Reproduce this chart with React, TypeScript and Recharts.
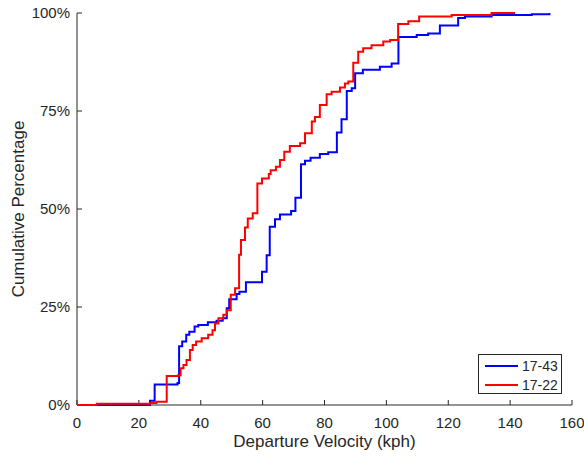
import { LineChart, Line, XAxis, YAxis, Legend } from 'recharts';

// departure velocity (kph) where each step happens, and cumulative % after it
const speeds1743 = [
  0, 23.6, 25.1, 32.5, 33.0, 34.0, 35.3, 36.3, 38.0, 39.2, 42.3, 45.1, 47.1, 48.4, 49.2, 51.6,
  52.5, 54.6, 59.8, 61.3, 62.3, 64.0, 65.6, 69.2, 70.6, 72.4, 73.7, 75.5, 78.5, 81.2, 84.0,
  85.5, 87.2, 88.8, 89.9, 92.4, 97.9, 101.7, 103.9, 109.8, 113.5, 117.3, 123.2, 125.4, 134.0,
  147.0, 152.7,
];
const pct1743 = [
  0, 1.1, 5.2, 5.6, 15.0, 16.2, 17.9, 18.7, 20.0, 20.4, 21.1, 21.5, 22.1, 24.7, 27.0, 28.3,
  28.9, 31.3, 34.0, 38.2, 45.5, 47.4, 48.6, 49.5, 52.9, 61.4, 62.3, 63.1, 64.0, 64.5, 69.5,
  72.9, 80.1, 80.8, 84.6, 85.5, 86.3, 87.1, 93.9, 94.4, 94.8, 96.8, 98.7, 99.1, 99.5, 99.7,
  100,
];

const speeds1722 = [
  0, 6.4, 23.6, 25.7, 29.0, 32.7, 33.5, 34.4, 35.4, 36.5, 37.4, 38.5, 40.3, 42.4, 43.8, 44.6,
  45.7, 47.3, 48.4, 49.7, 51.1, 52.4, 53.0, 54.3, 55.2, 56.8, 58.3, 59.8, 62.0, 62.6, 64.3,
  65.6, 67.0, 68.8, 72.1, 73.7, 75.9, 76.9, 78.5, 80.7, 82.3, 85.0, 86.6, 87.7, 89.3, 90.9,
  92.5, 95.2, 99.0, 101.2, 103.8, 107.1, 110.6, 121.1, 134.0, 141.6,
];
const pct1722 = [
  0, 0.3, 0.5, 0.8, 7.4, 7.6, 9.4, 10.2, 11.5, 14.0, 15.3, 16.2, 17.0, 17.9, 19.1, 20.8,
  22.1, 23.0, 24.2, 28.1, 29.8, 38.3, 42.1, 45.3, 47.6, 48.9, 56.5, 57.8, 58.9, 59.9, 60.8,
  62.5, 64.6, 66.1, 66.8, 69.3, 72.3, 73.5, 76.5, 79.3, 79.9, 81.0, 82.0, 82.5, 87.3, 90.1,
  91.0, 91.8, 92.7, 93.1, 97.2, 97.9, 99.1, 99.5, 100, 100,
];

const seriesNames = ['17-43', '17-22'];
const xTicks = [0, 20, 40, 60, 80, 100, 120, 140, 160];
const yTicks = [0, 25, 50, 75, 100];

const data1743 = speeds1743.map((v, i) => ({ v, p: pct1743[i] }));
const data1722 = speeds1722.map((v, i) => ({ v, p: pct1722[i] }));

const ink = '#262626';
const font = '"Liberation Sans", Arial, sans-serif';

function LegendBox({ payload }: { payload?: { value: string; color: string }[] }) {
  const items = [...(payload || [])].sort(
    (a, b) => seriesNames.indexOf(a.value) - seriesNames.indexOf(b.value)
  );
  return (
    <div
      style={{
        width: 84,
        height: 40,
        border: `1px solid ${ink}`,
        background: '#fff',
        fontFamily: font,
        fontSize: 14,
        color: ink,
        paddingTop: 1,
        boxSizing: 'border-box',
      }}
    >
      {items.map((p) => (
        <div key={p.value} style={{ display: 'flex', alignItems: 'center', height: 19 }}>
          <span style={{ display: 'inline-block', width: 33, height: 2, background: p.color, marginLeft: 6 }} />
          <span style={{ marginLeft: 4 }}>{p.value}</span>
        </div>
      ))}
    </div>
  );
}

export default function App() {
  return (
    <div style={{ position: 'absolute', left: 0, top: 0, background: '#fff' }}>
      <LineChart width={584} height={457} margin={{ top: 13, right: 12, left: 0, bottom: 0 }}>
        <XAxis
          type="number"
          dataKey="v"
          domain={[0, 160]}
          ticks={xTicks}
          interval={0}
          height={52}
          tickSize={-5}
          tickMargin={17}
          stroke={ink}
          tick={{ fill: ink, fontSize: 15, fontFamily: font }}
          label={{
            value: 'Departure Velocity (kph)',
            position: 'insideBottom',
            offset: 10,
            fill: ink,
            fontSize: 17,
            fontFamily: font,
          }}
        />
        <YAxis
          type="number"
          domain={[0, 100]}
          ticks={yTicks}
          interval={0}
          width={77}
          tickSize={-5}
          tickMargin={12}
          stroke={ink}
          tickFormatter={(v: number) => `${v}%`}
          tick={{ fill: ink, fontSize: 15, fontFamily: font }}
          label={{
            content: ({ viewBox }: any) => {
              const cx = viewBox.x + 18;
              const cy = viewBox.y + viewBox.height / 2;
              return (
                <text
                  x={cx}
                  y={cy}
                  transform={`rotate(-90 ${cx} ${cy})`}
                  textAnchor="middle"
                  dominantBaseline="central"
                  fill={ink}
                  fontSize={17}
                  fontFamily={font}
                >
                  Cumulative Percentage
                </text>
              );
            },
          }}
        />
        <Legend
          layout="vertical"
          align="center"
          verticalAlign="middle"
          wrapperStyle={{ left: 478, top: 354, width: 'auto' }}
          content={(props: any) => <LegendBox payload={props.payload} />}
        />
        <Line
          data={data1743}
          dataKey="p"
          name="17-43"
          type="stepAfter"
          stroke="#0000ff"
          strokeWidth={2}
          dot={false}
          zIndex={550}
          isAnimationActive={false}
        />
        <Line
          data={data1722}
          dataKey="p"
          name="17-22"
          type="stepAfter"
          stroke="#ff0000"
          strokeWidth={2}
          dot={false}
          zIndex={560}
          isAnimationActive={false}
        />
      </LineChart>
    </div>
  );
}
